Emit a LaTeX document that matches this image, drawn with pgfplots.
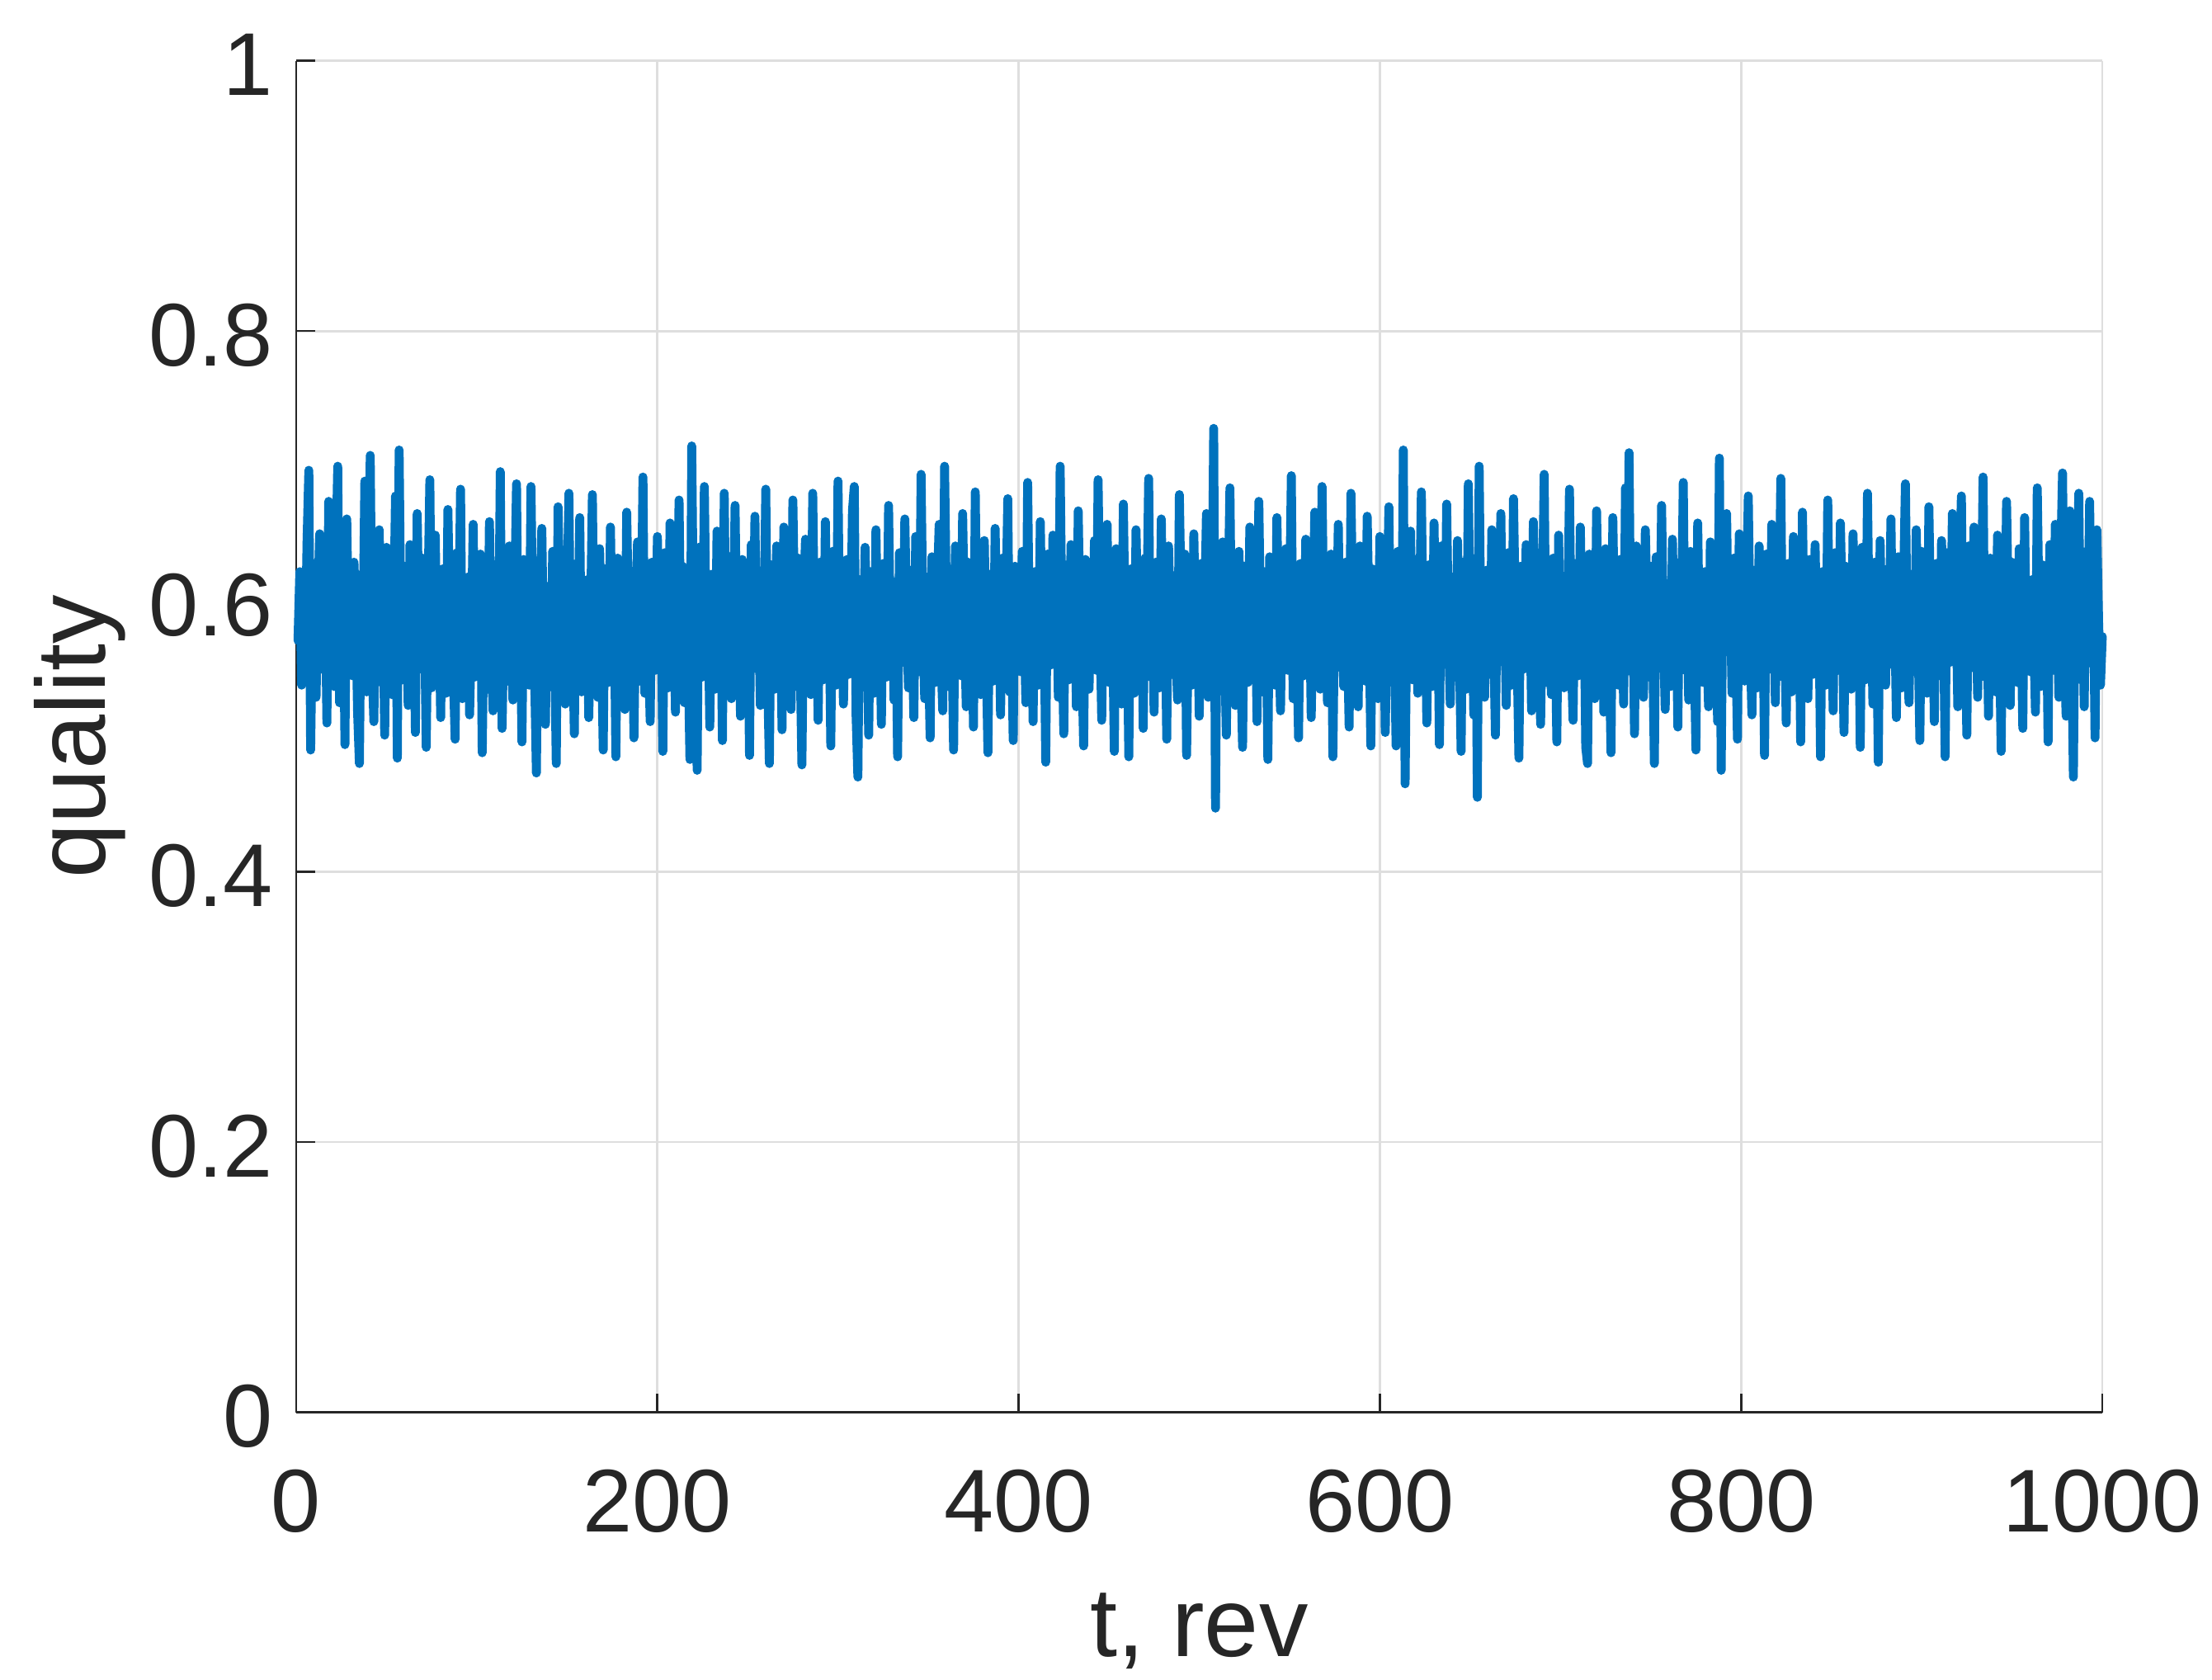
\documentclass[border=0pt]{standalone}
\usepackage{fontspec}
\setmainfont{Liberation Sans}
\usepackage{pgfplots}
\pgfplotsset{compat=1.18}
\definecolor{mline}{RGB}{0,114,189}
\definecolor{mtext}{RGB}{38,38,38}
\definecolor{mgrid}{RGB}{222,222,222}
\begin{document}
\begin{tikzpicture}
\useasboundingbox (-89.75bp,-81.1bp) rectangle (580.5bp,427.9bp);
\begin{axis}[
  at={(0,0)}, anchor=south west,
  scale only axis, width=547.25bp, height=409.5bp,
  xmin=0, xmax=1000, ymin=0, ymax=1,
  xtick={0,200,...,1000}, ytick={0,0.2,0.4,0.6,0.8,1},
  axis lines=left, axis line style={-, color=mtext, line width=0.65bp},
  tick align=inside, major tick length=5.75bp,
  tick style={color=mtext, line width=0.65bp},
  grid=major, major grid style={color=mgrid, line width=0.7bp},
  clip=false,
  /pgf/number format/assume math mode=true,
  /pgf/number format/1000 sep={},
  ticklabel style={font=\fontsize{27bp}{30bp}\selectfont, text=mtext},
  xticklabel style={anchor=base, yshift=-36.25bp},
  yticklabel style={yshift=-1.25bp, xshift=-3.5bp},
  label style={font=\fontsize{29.7bp}{33bp}\selectfont, text=mtext},
  xlabel={t, rev}, ylabel={quality},
  xlabel style={at={(axis description cs:0.5,-0.1805)}, anchor=base},
  ylabel style={at={(axis description cs:-0.10553,0.5)}, anchor=base},
]
\addplot[color=mline, line width=2.7bp, line join=round, line cap=round]
table[row sep=\\, header=false, x expr=\coordindex+1, y index=0] {
0.571\\0.622\\0.538\\0.607\\0.562\\0.644\\0.697\\0.490\\0.590\\0.628\\0.529\\0.601\\0.650\\0.550\\0.579\\0.616\\0.510\\0.674\\0.558\\0.598\\
0.537\\0.633\\0.700\\0.525\\0.584\\0.613\\0.494\\0.661\\0.568\\0.605\\0.545\\0.629\\0.588\\0.518\\0.480\\0.620\\0.574\\0.689\\0.533\\0.593\\
0.708\\0.557\\0.511\\0.610\\0.581\\0.653\\0.540\\0.600\\0.501\\0.640\\0.564\\0.619\\0.531\\0.589\\0.678\\0.484\\0.712\\0.572\\0.542\\0.626\\
0.596\\0.523\\0.642\\0.559\\0.611\\0.503\\0.665\\0.577\\0.550\\0.632\\0.592\\0.492\\0.606\\0.690\\0.536\\0.585\\0.649\\0.554\\0.602\\0.514\\
0.624\\0.567\\0.532\\0.668\\0.587\\0.609\\0.548\\0.498\\0.636\\0.580\\0.683\\0.528\\0.597\\0.563\\0.618\\0.516\\0.575\\0.657\\0.544\\0.603\\
0.561\\0.635\\0.488\\0.589\\0.614\\0.535\\0.659\\0.570\\0.519\\0.627\\0.594\\0.551\\0.696\\0.506\\0.583\\0.615\\0.541\\0.641\\0.576\\0.527\\
0.607\\0.687\\0.533\\0.592\\0.496\\0.631\\0.566\\0.601\\0.538\\0.685\\0.579\\0.546\\0.473\\0.620\\0.597\\0.654\\0.558\\0.509\\0.611\\0.588\\
0.537\\0.637\\0.574\\0.480\\0.670\\0.593\\0.555\\0.623\\0.524\\0.605\\0.680\\0.544\\0.583\\0.502\\0.628\\0.568\\0.662\\0.533\\0.600\\0.562\\
0.616\\0.514\\0.589\\0.679\\0.551\\0.606\\0.529\\0.639\\0.572\\0.490\\0.624\\0.584\\0.540\\0.655\\0.566\\0.602\\0.485\\0.632\\0.577\\0.548\\
0.610\\0.520\\0.666\\0.587\\0.557\\0.622\\0.499\\0.594\\0.644\\0.541\\0.575\\0.692\\0.532\\0.613\\0.568\\0.511\\0.629\\0.590\\0.549\\0.648\\
0.559\\0.602\\0.489\\0.636\\0.580\\0.536\\0.658\\0.571\\0.607\\0.518\\0.592\\0.675\\0.553\\0.626\\0.525\\0.598\\0.564\\0.483\\0.715\\0.576\\
0.618\\0.475\\0.640\\0.584\\0.544\\0.685\\0.567\\0.601\\0.507\\0.620\\0.589\\0.535\\0.652\\0.558\\0.609\\0.497\\0.680\\0.551\\0.596\\0.633\\
0.528\\0.574\\0.671\\0.562\\0.611\\0.515\\0.631\\0.588\\0.538\\0.605\\0.486\\0.642\\0.570\\0.663\\0.550\\0.597\\0.523\\0.623\\0.581\\0.683\\
0.545\\0.480\\0.627\\0.593\\0.535\\0.641\\0.566\\0.607\\0.505\\0.655\\0.577\\0.549\\0.619\\0.520\\0.675\\0.587\\0.537\\0.632\\0.561\\0.479\\
0.602\\0.646\\0.554\\0.590\\0.531\\0.680\\0.572\\0.614\\0.512\\0.629\\0.584\\0.542\\0.659\\0.567\\0.600\\0.493\\0.637\\0.579\\0.538\\0.689\\
0.557\\0.610\\0.524\\0.592\\0.631\\0.546\\0.575\\0.667\\0.685\\0.516\\0.470\\0.616\\0.583\\0.551\\0.640\\0.571\\0.501\\0.622\\0.598\\0.532\\
0.653\\0.563\\0.603\\0.509\\0.628\\0.585\\0.544\\0.671\\0.568\\0.615\\0.527\\0.593\\0.485\\0.636\\0.576\\0.555\\0.661\\0.588\\0.536\\0.623\\
0.574\\0.514\\0.648\\0.601\\0.548\\0.694\\0.581\\0.528\\0.618\\0.567\\0.499\\0.633\\0.590\\0.540\\0.610\\0.657\\0.559\\0.519\\0.700\\0.596\\
0.537\\0.624\\0.579\\0.490\\0.641\\0.562\\0.606\\0.545\\0.665\\0.584\\0.522\\0.629\\0.572\\0.601\\0.507\\0.681\\0.555\\0.613\\0.531\\0.592\\
0.645\\0.564\\0.488\\0.620\\0.587\\0.541\\0.654\\0.575\\0.607\\0.516\\0.632\\0.558\\0.597\\0.676\\0.533\\0.583\\0.497\\0.626\\0.570\\0.603\\
0.548\\0.637\\0.589\\0.525\\0.688\\0.566\\0.614\\0.511\\0.622\\0.580\\0.538\\0.659\\0.571\\0.600\\0.481\\0.635\\0.585\\0.553\\0.649\\0.562\\
0.605\\0.529\\0.700\\0.576\\0.502\\0.627\\0.592\\0.542\\0.642\\0.567\\0.616\\0.522\\0.667\\0.581\\0.557\\0.493\\0.631\\0.598\\0.535\\0.613\\
0.572\\0.645\\0.549\\0.690\\0.588\\0.512\\0.620\\0.563\\0.657\\0.540\\0.602\\0.580\\0.489\\0.639\\0.558\\0.609\\0.524\\0.672\\0.574\\0.593\\
0.485\\0.624\\0.568\\0.532\\0.653\\0.585\\0.551\\0.615\\0.506\\0.632\\0.590\\0.691\\0.544\\0.601\\0.518\\0.629\\0.579\\0.536\\0.661\\0.561\\
0.607\\0.498\\0.641\\0.583\\0.546\\0.619\\0.567\\0.527\\0.679\\0.597\\0.554\\0.635\\0.486\\0.589\\0.623\\0.538\\0.650\\0.575\\0.605\\0.515\\
0.628\\0.559\\0.592\\0.665\\0.529\\0.610\\0.564\\0.728\\0.447\\0.620\\0.584\\0.544\\0.644\\0.570\\0.501\\0.603\\0.684\\0.550\\0.614\\0.523\\
0.587\\0.637\\0.555\\0.492\\0.626\\0.579\\0.540\\0.655\\0.598\\0.563\\0.611\\0.511\\0.674\\0.575\\0.533\\0.622\\0.590\\0.483\\0.633\\0.558\\
0.602\\0.538\\0.662\\0.581\\0.519\\0.618\\0.567\\0.639\\0.549\\0.594\\0.693\\0.528\\0.609\\0.572\\0.499\\0.628\\0.588\\0.545\\0.646\\0.564\\
0.614\\0.514\\0.593\\0.666\\0.557\\0.605\\0.535\\0.685\\0.576\\0.623\\0.525\\0.585\\0.635\\0.485\\0.600\\0.568\\0.657\\0.551\\0.610\\0.537\\
0.629\\0.580\\0.507\\0.680\\0.592\\0.562\\0.618\\0.522\\0.641\\0.571\\0.606\\0.541\\0.663\\0.589\\0.493\\0.624\\0.555\\0.601\\0.528\\0.648\\
0.566\\0.613\\0.503\\0.588\\0.670\\0.548\\0.622\\0.577\\0.493\\0.637\\0.596\\0.527\\0.712\\0.465\\0.607\\0.574\\0.652\\0.542\\0.598\\0.631\\
0.532\\0.590\\0.681\\0.563\\0.611\\0.510\\0.627\\0.581\\0.537\\0.658\\0.570\\0.605\\0.494\\0.641\\0.585\\0.554\\0.672\\0.575\\0.524\\0.618\\
0.597\\0.544\\0.645\\0.566\\0.489\\0.629\\0.587\\0.535\\0.687\\0.577\\0.610\\0.516\\0.632\\0.455\\0.700\\0.559\\0.602\\0.529\\0.623\\0.590\\
0.546\\0.653\\0.572\\0.501\\0.616\\0.583\\0.665\\0.555\\0.600\\0.523\\0.636\\0.579\\0.538\\0.676\\0.593\\0.562\\0.484\\0.626\\0.584\\0.550\\
0.642\\0.568\\0.609\\0.519\\0.659\\0.589\\0.553\\0.622\\0.509\\0.601\\0.694\\0.540\\0.613\\0.576\\0.531\\0.632\\0.585\\0.496\\0.649\\0.564\\
0.605\\0.536\\0.619\\0.581\\0.683\\0.557\\0.512\\0.628\\0.592\\0.545\\0.655\\0.574\\0.610\\0.492\\0.480\\0.635\\0.567\\0.598\\0.528\\0.667\\
0.584\\0.550\\0.624\\0.518\\0.639\\0.594\\0.562\\0.488\\0.662\\0.577\\0.607\\0.538\\0.631\\0.588\\0.524\\0.684\\0.571\\0.710\\0.548\\0.603\\
0.502\\0.641\\0.580\\0.559\\0.616\\0.529\\0.653\\0.592\\0.544\\0.626\\0.572\\0.480\\0.633\\0.597\\0.554\\0.671\\0.576\\0.520\\0.613\\0.587\\
0.537\\0.646\\0.566\\0.602\\0.507\\0.629\\0.583\\0.688\\0.549\\0.609\\0.527\\0.637\\0.589\\0.568\\0.490\\0.658\\0.558\\0.600\\0.540\\0.622\\
0.575\\0.522\\0.644\\0.593\\0.551\\0.614\\0.511\\0.706\\0.475\\0.627\\0.585\\0.665\\0.563\\0.605\\0.532\\0.632\\0.577\\0.498\\0.650\\0.555\\
0.611\\0.541\\0.596\\0.678\\0.571\\0.516\\0.623\\0.588\\0.536\\0.641\\0.564\\0.607\\0.486\\0.635\\0.580\\0.550\\0.657\\0.598\\0.525\\0.619\\
0.584\\0.691\\0.544\\0.603\\0.510\\0.628\\0.574\\0.533\\0.648\\0.592\\0.557\\0.615\\0.496\\0.666\\0.568\\0.601\\0.528\\0.631\\0.581\\0.546\\
0.642\\0.567\\0.611\\0.485\\0.622\\0.589\\0.538\\0.675\\0.561\\0.602\\0.519\\0.636\\0.579\\0.549\\0.658\\0.594\\0.503\\0.626\\0.572\\0.607\\
0.535\\0.650\\0.583\\0.558\\0.618\\0.492\\0.640\\0.590\\0.542\\0.680\\0.570\\0.605\\0.524\\0.629\\0.587\\0.481\\0.645\\0.563\\0.610\\0.538\\
0.624\\0.576\\0.661\\0.553\\0.597\\0.514\\0.633\\0.585\\0.536\\0.614\\0.687\\0.566\\0.525\\0.620\\0.593\\0.548\\0.653\\0.577\\0.497\\0.637\\
0.562\\0.602\\0.532\\0.670\\0.581\\0.618\\0.511\\0.628\\0.572\\0.545\\0.645\\0.596\\0.485\\0.636\\0.588\\0.555\\0.665\\0.567\\0.606\\0.522\\
0.622\\0.678\\0.538\\0.592\\0.501\\0.641\\0.575\\0.551\\0.655\\0.600\\0.529\\0.626\\0.584\\0.692\\0.544\\0.611\\0.515\\0.632\\0.568\\0.603\\
0.533\\0.649\\0.580\\0.489\\0.620\\0.562\\0.674\\0.592\\0.523\\0.629\\0.572\\0.607\\0.540\\0.639\\0.589\\0.506\\0.662\\0.557\\0.601\\0.548\\
0.616\\0.577\\0.518\\0.684\\0.587\\0.537\\0.627\\0.568\\0.605\\0.496\\0.642\\0.585\\0.549\\0.657\\0.597\\0.529\\0.633\\0.695\\0.558\\0.515\\
0.609\\0.667\\0.575\\0.470\\0.624\\0.592\\0.680\\0.542\\0.603\\0.522\\0.637\\0.571\\0.674\\0.554\\0.615\\0.499\\0.653\\0.583\\0.538\\0.574\\
};
\end{axis}
\end{tikzpicture}
\end{document}
